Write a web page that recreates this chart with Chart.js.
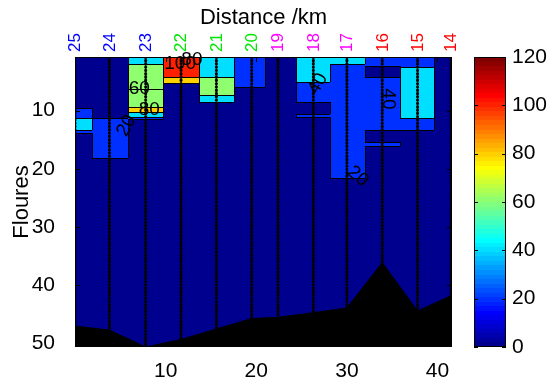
<!DOCTYPE html>
<html><head><meta charset="utf-8">
<script src="https://cdn.jsdelivr.net/npm/chart.js@4.4.1/dist/chart.umd.min.js"></script>
<style>html,body{margin:0;padding:0;background:#fff;}canvas{display:block;}</style>
</head><body>
<canvas id="c" width="556" height="387"></canvas>
<script>
// ---------------- data ----------------
const stations = ['25','24','23','22','21','20','19','18','17','16','15','14'];
const stationColors = ['#0000ff','#0000ff','#0000ff','#00e600','#00e600','#00e600','#ff00ff','#ff00ff','#ff00ff','#ff0000','#ff0000','#ff0000'];
const distanceKm = [0, 3.8, 7.8, 11.7, 15.6, 19.5, 22.4, 26.3, 30.0, 33.9, 37.8, 41.5];
const seabedDepth = [47.0, 47.7, 50.6, 49.3, 47.5, 45.7, 45.5, 44.7, 43.9, 36.1, 44.4, 41.8];
const xTicks = [10, 20, 30, 40];
const yTicks = [10, 20, 30, 40, 50];
const colorTicks = [0, 20, 40, 60, 80, 100, 120];
// fluorescence profile at each station: bottom depth of each layer (m) and its value
const layerBottoms = [
  [9.6, 11.3, 13.4, 13.9, 50.6],
  [11.3, 18.2, 50.6],
  [2.0, 6.3, 9.4, 10.3, 11.1, 11.5, 50.6],
  [4.2, 5.2, 50.6],
  [4.2, 7.4, 8.5, 50.6],
  [6.0, 50.6],
  [50.6],
  [5.1, 8.5, 10.6, 11.1, 50.6],
  [2.0, 21.5, 50.6],
  [2.3, 4.2, 13.4, 15.4, 16.1, 50.6],
  [2.5, 11.3, 13.4, 50.6],
  [50.6]
];
const layerValues = [
  [10, 30, 50, 30, 10],
  [10, 30, 10],
  [50, 60, 70, 90, 50, 30, 10],
  [110, 90, 10],
  [50, 70, 50, 10],
  [30, 10],
  [10],
  [50, 30, 10, 30, 10],
  [50, 30, 10],
  [30, 10, 30, 10, 30, 10],
  [30, 50, 30, 10],
  [10]
];
const contourLabels = [
  {text:'60', km:7.1, depth:6.2, angle:0},
  {text:'80', km:8.2, depth:9.8, angle:0},
  {text:'20', km:5.7, depth:12.6, angle:-62},
  {text:'100', km:11.6, depth:2.0, angle:0},
  {text:'80', km:12.9, depth:1.2, angle:0},
  {text:'40', km:26.8, depth:5.4, angle:-60},
  {text:'40', km:34.6, depth:8.0, angle:90},
  {text:'20', km:31.2, depth:21.3, angle:40}
];
const X_MIN = 0, X_MAX = 41.6, Y_MIN = 0.8, Y_MAX = 50.6, C_MIN = 0, C_MAX = 120;

// ---------------- colormap (MATLAB jet, 64 rows) ----------------
function jetRow(k){
  let r=0,g=0,b=0;
  if (k<=8){ b=0.5+k/16; }
  else if (k<=24){ g=(k-8)/16; b=1; }
  else if (k<=40){ r=(k-24)/16; g=1; b=1-(k-24)/16; }
  else if (k<=56){ r=1; g=1-(k-40)/16; }
  else { r=1-(k-56)/16; }
  return 'rgb('+Math.round(r*255)+','+Math.round(g*255)+','+Math.round(b*255)+')';
}
function bandColor(v){
  const level = Math.floor(v/20)*20;
  const k = Math.min(64, Math.floor((level-C_MIN)/(C_MAX-C_MIN)*64)+1);
  return jetRow(k);
}
function valueAt(i, d){
  const b = layerBottoms[i];
  for (let j=0;j<b.length;j++) if (d <= b[j]) return layerValues[i][j];
  return layerValues[i][b.length-1];
}

const FONT = "'Liberation Sans', Arial, sans-serif";
Chart.defaults.font.family = FONT;
Chart.defaults.color = '#000';

const fieldPlugin = {
  id:'field',
  beforeDatasetsDraw(chart){
    const {ctx, chartArea:a, scales:{x, y}} = chart;
    const n = distanceKm.length;
    const edges = [X_MIN];
    for (let i=0;i<n-1;i++) edges.push((distanceKm[i]+distanceKm[i+1])/2);
    edges.push(X_MAX);
    const px = v => Math.round(x.getPixelForValue(v));
    const py = v => Math.round(y.getPixelForValue(v));
    ctx.save();
    ctx.beginPath(); ctx.rect(a.left, a.top, a.width, a.height); ctx.clip();
    for (let i=0;i<n;i++){
      let top = Y_MIN;
      layerBottoms[i].forEach((bot,j)=>{
        ctx.fillStyle = bandColor(layerValues[i][j]);
        const x0=px(edges[i]), x1=px(edges[i+1]), y0=py(top), y1=py(bot);
        ctx.fillRect(x0, y0, x1-x0, y1-y0);
        top = bot;
      });
    }
    ctx.strokeStyle = '#000'; ctx.lineWidth = 1;
    ctx.beginPath();
    for (let i=0;i<n;i++){
      const b = layerBottoms[i], v = layerValues[i];
      for (let j=0;j<b.length-1;j++){
        if (v[j] !== v[j+1]){
          const yy = py(b[j]) + 0.5;
          ctx.moveTo(px(edges[i]), yy); ctx.lineTo(px(edges[i+1]), yy);
        }
      }
    }
    for (let i=0;i<n-1;i++){
      const bps = [Y_MIN, ...layerBottoms[i], ...layerBottoms[i+1]].sort((p,q)=>p-q);
      const xx = px(edges[i+1]) + 0.5;
      for (let k=0;k<bps.length-1;k++){
        const d0=bps[k], d1=bps[k+1];
        if (d1-d0 < 1e-6) continue;
        const m=(d0+d1)/2;
        if (valueAt(i,m) !== valueAt(i+1,m)){ ctx.moveTo(xx, py(d0)); ctx.lineTo(xx, py(d1)); }
      }
    }
    ctx.stroke();
    ctx.restore();
  },
  afterDatasetsDraw(chart){
    const {ctx, scales:{x, y}} = chart;
    ctx.save();
    ctx.fillStyle = '#000';
    ctx.font = '19px ' + FONT;
    ctx.textAlign = 'center'; ctx.textBaseline = 'middle';
    contourLabels.forEach(l=>{
      ctx.save();
      ctx.translate(x.getPixelForValue(l.km), y.getPixelForValue(l.depth));
      ctx.rotate(l.angle*Math.PI/180);
      ctx.fillText(l.text, 0, 0);
      ctx.restore();
    });
    ctx.restore();
  },
  afterDraw(chart){
    const {ctx, chartArea:a, scales:{x, y, y2}} = chart;
    ctx.save();
    ctx.strokeStyle = '#000'; ctx.lineWidth = 1;
    ctx.strokeRect(Math.round(a.left)+0.5, Math.round(a.top)+0.5, Math.round(a.width)-1, Math.round(a.height)-1);
    ctx.beginPath();
    xTicks.forEach(v=>{ const xx=Math.round(x.getPixelForValue(v))+0.5; ctx.moveTo(xx,a.bottom); ctx.lineTo(xx,a.bottom-5); ctx.moveTo(xx,a.top); ctx.lineTo(xx,a.top+5); });
    yTicks.forEach(v=>{ const yy=Math.round(y.getPixelForValue(v))+0.5; ctx.moveTo(a.left,yy); ctx.lineTo(a.left+5,yy); ctx.moveTo(a.right,yy); ctx.lineTo(a.right-5,yy); });
    ctx.stroke();
    // colour bar
    const cl = Math.round(a.right) + 22, cw = 32;
    for (let k=1;k<=64;k++){
      const v0 = C_MIN + (k-1)*(C_MAX-C_MIN)/64, v1 = C_MIN + k*(C_MAX-C_MIN)/64;
      const y0 = Math.round(y2.getPixelForValue(v1)), y1 = Math.round(y2.getPixelForValue(v0));
      ctx.fillStyle = jetRow(k);
      ctx.fillRect(cl, y0, cw, y1-y0);
    }
    const ct = Math.round(y2.getPixelForValue(C_MAX)), cb = Math.round(y2.getPixelForValue(C_MIN));
    ctx.strokeRect(cl+0.5, ct+0.5, cw-1, cb-ct-1);
    ctx.beginPath();
    colorTicks.forEach(v=>{ const yy=Math.round(y2.getPixelForValue(v))+0.5; ctx.moveTo(cl,yy); ctx.lineTo(cl+4,yy); ctx.moveTo(cl+cw,yy); ctx.lineTo(cl+cw-4,yy); });
    ctx.stroke();
    ctx.restore();
  }
};

const stationLines = stations.map((s,i)=>({
  label:'Station '+s,
  data:[{x:distanceKm[i], y:Y_MIN},{x:distanceKm[i], y:Y_MAX}],
  showLine:true, borderColor:'#000', borderWidth:3, borderDash:[0.4,2.9], borderCapStyle:'round',
  pointRadius:0, order:0
}));
const seabed = {
  label:'Seabed',
  data: distanceKm.map((d,i)=>({x:d, y:seabedDepth[i]})),
  showLine:true, borderColor:'#000', backgroundColor:'#000', borderWidth:1,
  fill:{value:Y_MAX}, pointRadius:0, tension:0, order:1
};

new Chart(document.getElementById('c'), {
  type:'scatter',
  data:{ datasets:[...stationLines, seabed] },
  plugins:[fieldPlugin],
  options:{
    responsive:false, animation:false, devicePixelRatio:1,
    layout:{padding:0},
    plugins:{legend:{display:false}, tooltip:{enabled:false}},
    scales:{
      x:{type:'linear', position:'bottom', min:X_MIN, max:X_MAX, bounds:'data',
        afterBuildTicks:s=>{ s.ticks = xTicks.map(v=>({value:v})); },
        ticks:{font:{size:21}, color:'#000', padding:4, maxRotation:0, autoSkip:false},
        grid:{display:false}, border:{display:false},
        afterFit:s=>{ s.height = 40; }},
      x2:{type:'linear', position:'top', min:X_MIN, max:X_MAX, bounds:'data',
        afterBuildTicks:s=>{ s.ticks = distanceKm.map(v=>({value:v})); },
        ticks:{callback:(v,i)=>stations[i], color:c=>stationColors[c.index], font:{size:17}, minRotation:90, maxRotation:90, autoSkip:false, padding:-3, labelOffset:21},
        title:{display:true, text:'Distance /km', font:{size:22}, color:'#000', padding:{top:5, bottom:0}},
        grid:{display:false}, border:{display:false},
        afterFit:s=>{ s.height = 57; }},
      y:{type:'linear', position:'left', reverse:true, min:Y_MIN, max:Y_MAX, bounds:'data',
        afterBuildTicks:s=>{ s.ticks = yTicks.map(v=>({value:v})); },
        ticks:{font:{size:21}, color:'#000', padding:12, autoSkip:false},
        title:{display:true, text:'Floures', font:{size:22}, color:'#000', padding:{top:9, bottom:0}},
        grid:{display:false}, border:{display:false},
        afterFit:s=>{ s.width = 75; }},
      y2:{type:'linear', position:'right', min:C_MIN, max:C_MAX, bounds:'data',
        afterBuildTicks:s=>{ s.ticks = colorTicks.map(v=>({value:v})); },
        ticks:{font:{size:21}, color:'#000', padding:4, autoSkip:false},
        grid:{display:true, drawOnChartArea:false, drawTicks:true, tickLength:56, tickColor:'rgba(0,0,0,0)'},
        border:{display:false},
        afterFit:s=>{ s.width = 104; }}
    }
  }
});
</script>
</body></html>
